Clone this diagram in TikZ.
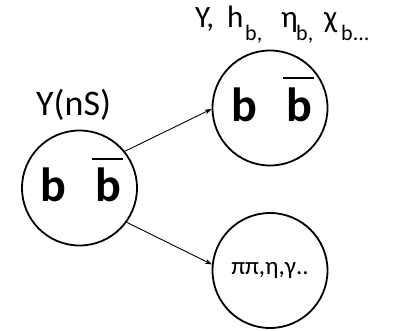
\documentclass[tikz,border=0pt]{standalone}
\usepackage{fontspec}
\setmainfont{Carlito}
\usetikzlibrary{arrows.meta}
\newcommand\subb[1]{\raisebox{-13pt}{\fontsize{22}{22}\selectfont #1}}
\tikzset{
  ring/.style={draw, circle, line width=1.8pt, minimum size=115pt, inner sep=0pt},
  bglyph/.style={inner sep=0pt, anchor=base, font=\fontsize{48}{48}\selectfont\bfseries},
  arr/.style={-{Stealth[length=7pt,width=5pt]}, line width=0.9pt},
  lbl/.style={inner sep=0pt, anchor=base west},
  barline/.style={line width=2pt}
}
\begin{document}
\begin{tikzpicture}[x=1pt,y=-1pt]
\useasboundingbox (0,0) rectangle (394,330);
% circles
\node[ring] (L) at (79.5,188) {};
\node[ring] (T) at (270,108) {};
\node[ring] (B) at (270,270.5) {\fontsize{25}{25}\selectfont ππ,η,γ..};
% b b-bar in left circle
\node[bglyph] (l1) at (53.3,201.7) {b};
\node[bglyph] (l2) at (108.5,201.7) {b};
\draw[barline] (92,159) -- (123,159);
% b b-bar in top circle
\node[bglyph] (t1) at (244,121.5) {b};
\node[bglyph] (t2) at (299,121.5) {b};
\draw[barline] (283,78) -- (314,78);
% labels
\node[lbl] (ln) at (36,115) {\fontsize{36}{36}\selectfont Y(nS)};
\node[lbl] (tn) at (195,27) {\fontsize{31}{31}\selectfont%
  \makebox[32pt][l]{Y,}\makebox[18pt][l]{h}\makebox[36pt][l]{\subb{b,}}%
  \makebox[15pt][l]{η}\makebox[28pt][l]{\subb{b,}}%
  \makebox[17pt][l]{χ}\subb{b...}};
% arrows
\draw[arr] (L.39) -- (T.181);
\draw[arr] (L.-36) -- (B.174);
\end{tikzpicture}
\end{document}
